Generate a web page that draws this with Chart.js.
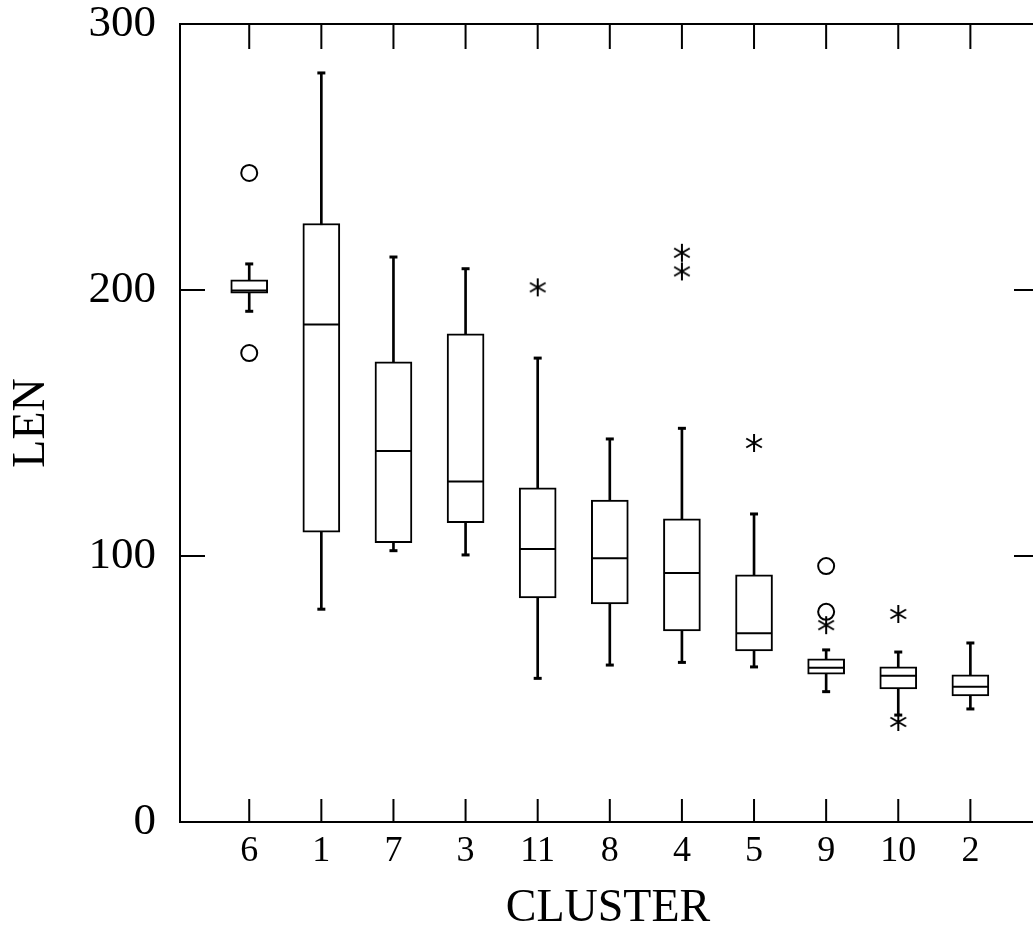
<!DOCTYPE html>
<html>
<head>
<meta charset="utf-8">
<script src="https://cdn.jsdelivr.net/npm/chart.js@4.4.1/dist/chart.umd.min.js"></script>
<style>
  html, body { margin: 0; padding: 0; background: #fff; overflow: hidden; }
  canvas { display: block; }
</style>
</head>
<body>
<canvas id="boxChart" width="1045" height="932"></canvas>
<script>
// Box plot of LEN per CLUSTER
var clusters = ['6', '1', '7', '3', '11', '8', '4', '5', '9', '10', '2'];
var whiskerLow = [192, 80, 102, 100.4, 54, 59, 60, 58.3, 49, 40.2, 42.5];
var q1 = [198.8, 109, 105, 112.5, 84.2, 82, 71.8, 64.3, 55.6, 50, 47.4];
var median = [199.8, 187, 139.5, 128, 102.6, 99.2, 93.6, 71, 58, 55, 50.8];
var q3 = [203.8, 225, 173, 183.5, 125.6, 121, 114, 92.9, 61.3, 58.3, 55.3];
var whiskerHigh = [209.8, 281.6, 212.4, 208, 174.4, 144, 148, 115.8, 64.7, 63.9, 67.3];

// outliers: circles (o) and asterisks (*)
var circleCluster = ['6', '6', '9', '9'];
var circleValue = [244, 176.3, 96.2, 79];
var starCluster = ['11', '4', '4', '5', '9', '10', '10'];
var starValue = [201, 214, 207, 142.5, 74, 78.2, 37.6];

var yTicks = [0, 100, 200, 300];

function pos(name) {
    return clusters.indexOf(name) + 1;
}

// asterisk marker
var star = document.createElement('canvas');
star.width = 20;
star.height = 20;
var sctx = star.getContext('2d');
sctx.strokeStyle = '#000';
sctx.lineWidth = 2;
sctx.beginPath();
for (var a = 0; a < 3; a++) {
    var ang = Math.PI / 2 + a * Math.PI / 3;
    sctx.moveTo(10 + Math.cos(ang) * 9, 10 + Math.sin(ang) * 9);
    sctx.lineTo(10 - Math.cos(ang) * 9, 10 - Math.sin(ang) * 9);
}
sctx.stroke();

// frame + inward ticks on all four sides
var framePlugin = {
    id: 'frame',
    afterDatasetsDraw: function(chart) {
        var ctx = chart.ctx;
        var area = chart.chartArea;
        var xs = chart.scales.x;
        var ys = chart.scales.y;
        ctx.save();
        ctx.strokeStyle = '#000';
        ctx.lineWidth = 2;
        ctx.strokeRect(area.left, area.top, area.right - area.left, area.bottom - area.top);
        ctx.beginPath();
        clusters.forEach(function(c, i) {
            var px = xs.getPixelForValue(i + 1);
            ctx.moveTo(px, area.top);
            ctx.lineTo(px, area.top + 25);
            ctx.moveTo(px, area.bottom);
            ctx.lineTo(px, area.bottom - 23);
        });
        yTicks.forEach(function(v) {
            var py = ys.getPixelForValue(v);
            ctx.moveTo(area.left, py);
            ctx.lineTo(area.left + 25, py);
            ctx.moveTo(area.right, py);
            ctx.lineTo(area.right - 22, py);
        });
        ctx.stroke();
        ctx.restore();
    }
};

var serif = 'Liberation Serif, Times New Roman, serif';

function noPad(scale) {
    scale.paddingTop = 0;
    scale.paddingBottom = 0;
    scale.paddingLeft = 0;
    scale.paddingRight = 0;
}

var ctx = document.getElementById('boxChart').getContext('2d');
var boxChart = new Chart(ctx, {
    type: 'bar',
    data: {
        datasets: [{
            label: 'whisker',
            data: clusters.map(function(c, i) { return { x: i + 1, y: [whiskerLow[i], whiskerHigh[i]] }; }),
            backgroundColor: '#000',
            borderWidth: 0,
            barThickness: 2,
            grouped: false,
            order: 5
        }, {
            label: 'box',
            data: clusters.map(function(c, i) { return { x: i + 1, y: [q1[i], q3[i]] }; }),
            backgroundColor: '#fff',
            borderColor: '#000',
            borderWidth: 2,
            borderSkipped: false,
            barThickness: 37,
            grouped: false,
            order: 4
        }, {
            type: 'scatter',
            label: 'median',
            data: clusters.map(function(c, i) { return { x: i + 1, y: median[i] }; }),
            pointStyle: 'line',
            pointRadius: 18,
            borderColor: '#000',
            borderWidth: 2,
            order: 3
        }, {
            type: 'scatter',
            label: 'caps',
            data: clusters.map(function(c, i) { return { x: i + 1, y: whiskerLow[i] }; })
                .concat(clusters.map(function(c, i) { return { x: i + 1, y: whiskerHigh[i] }; })),
            pointStyle: 'line',
            pointRadius: 4,
            borderColor: '#000',
            borderWidth: 3,
            order: 2
        }, {
            type: 'scatter',
            label: 'outside (o)',
            data: circleCluster.map(function(c, i) { return { x: pos(c), y: circleValue[i] }; }),
            pointStyle: 'circle',
            pointRadius: 8,
            borderColor: '#000',
            backgroundColor: 'rgba(0,0,0,0)',
            borderWidth: 2,
            order: 1
        }, {
            type: 'scatter',
            label: 'outside (*)',
            data: starCluster.map(function(c, i) { return { x: pos(c), y: starValue[i] }; }),
            pointStyle: star,
            order: 0
        }]
    },
    options: {
        responsive: false,
        animation: false,
        layout: { autoPadding: false, padding: { top: 24, right: 9, left: 0, bottom: 0 } },
        plugins: {
            legend: { display: false },
            tooltip: { enabled: false }
        },
        scales: {
            x: {
                type: 'linear',
                min: 0.04,
                max: 11.91,
                offset: false,
                grid: { display: false, drawTicks: false },
                border: { display: false },
                afterBuildTicks: function(scale) {
                    scale.ticks = clusters.map(function(c, i) { return { value: i + 1 }; });
                },
                afterFit: function(scale) {
                    scale.height = 110;
                    noPad(scale);
                },
                ticks: {
                    autoSkip: false,
                    maxRotation: 0,
                    padding: 12,
                    color: '#000',
                    font: { family: serif, size: 36, lineHeight: 1 },
                    callback: function(v) { return clusters[v - 1]; }
                },
                title: {
                    display: true,
                    text: 'CLUSTER',
                    color: '#000',
                    padding: { top: 0, bottom: 0 },
                    font: { family: serif, size: 46, lineHeight: 1 }
                }
            },
            y: {
                min: 0,
                max: 300,
                grid: { display: false, drawTicks: false },
                border: { display: false },
                afterFit: function(scale) {
                    scale.width = 180;
                    noPad(scale);
                },
                ticks: {
                    stepSize: 100,
                    padding: 24,
                    color: '#000',
                    font: { family: serif, size: 45, lineHeight: 1 }
                },
                title: {
                    display: true,
                    text: 'LEN',
                    color: '#000',
                    padding: { top: 9, bottom: 0 },
                    font: { family: serif, size: 46, lineHeight: 1 }
                }
            }
        }
    },
    plugins: [framePlugin]
});
</script>
</body>
</html>
